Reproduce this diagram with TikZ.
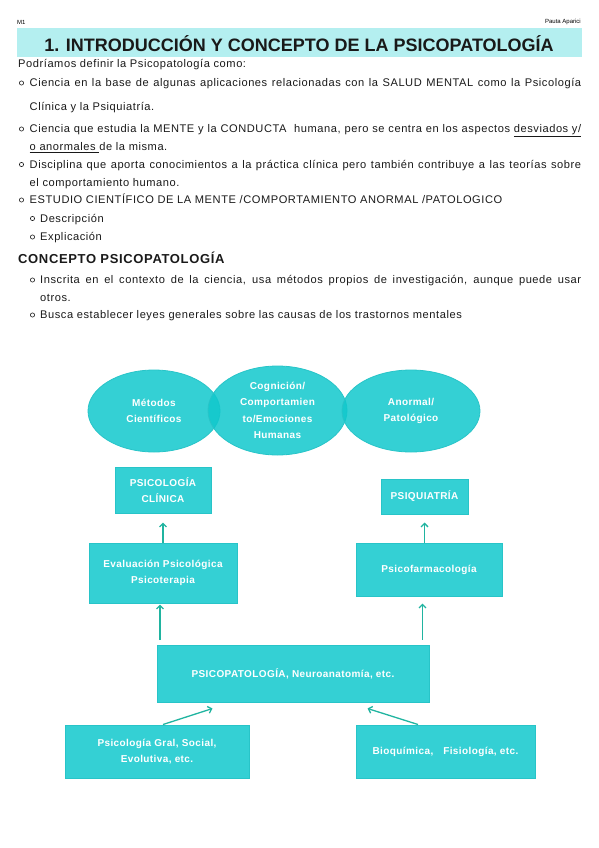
\documentclass[tikz,border=0pt]{standalone}
\usepackage{fontspec}
\setmainfont{Liberation Sans}
\newfontfamily\bodyf{Liberation Sans}[LetterSpace=5]
\newfontfamily\diagf{Liberation Sans}[LetterSpace=4]
\usetikzlibrary{shapes.geometric,arrows.meta,calc}
\definecolor{band}{RGB}{180,239,240}
\definecolor{tfill}{RGB}{16,200,204}
\definecolor{bfill}{RGB}{52,208,212}
\definecolor{bdraw}{RGB}{40,196,200}
\definecolor{arrc}{RGB}{32,180,160}
\definecolor{txt}{RGB}{25,25,25}
\begin{document}
\begin{tikzpicture}[x=1pt,y=-1pt,
  body/.style={anchor=west,inner sep=0pt,text height=7.9pt,text depth=0pt,text=txt,font=\bodyf\fontsize{11.1}{12}\selectfont},
  bul/.style={circle,draw=txt,line width=0.6pt,minimum size=4.2pt,inner sep=0pt},
  ell/.style={ellipse,draw=bdraw,line width=0.8pt,fill=tfill,fill opacity=0.85,text opacity=1,text=white,font=\diagf\bfseries\fontsize{10}{16.5}\selectfont,align=center,inner sep=0pt},
  tbox/.style={rectangle,draw=bdraw,line width=1pt,fill=bfill,text=white,font=\diagf\bfseries\fontsize{10}{16}\selectfont,align=center,inner sep=0pt},
  arr/.style={draw=arrc,line width=1.3pt,-{Straight Barb[length=3.5pt,width=7pt]}}
]
\useasboundingbox (0,0) rectangle (599,848);
% header
\node[anchor=west,inner sep=0pt,font=\fontsize{6}{7}\selectfont] (m1) at (17,22) {M1};
\node[anchor=east,inner sep=0pt,font=\fontsize{6}{7}\selectfont] (pa) at (581,22) {Pauta Aparici};
\node[fill=band,minimum width=565pt,minimum height=29pt,inner sep=0pt] (band) at (299.5,42.5) {};
\node[inner sep=0pt,text height=12.9pt,text depth=0pt,text=txt,font=\bfseries\fontsize{18}{20}\selectfont] (title) at (299,45) {1. INTRODUCCIÓN Y CONCEPTO DE LA PSICOPATOLOGÍA};
% body text
\node[body] (t0) at (18,64) {Podríamos definir la Psicopatología como:};
\node[bul] (b1) at (21.5,83) {};
\node[body] (t1) at (29.5,83) {\makebox[551.5pt][s]{Ciencia en la base de algunas aplicaciones relacionadas con la SALUD MENTAL como la Psicología}};
\node[body] (t1b) at (29.5,106.5) {Clínica y la Psiquiatría.};
\node[bul] (b2) at (21.5,129) {};
\node[body] (t2) at (29.5,129) {\makebox[551.5pt][s]{Ciencia que estudia la MENTE y la CONDUCTA\ \ humana, pero se centra en los aspectos \underline{desviados y/}}};
\node[body] (t2b) at (29.5,147) {\underline{o anormales }de la misma.};
\node[bul] (b3) at (21.5,164.5) {};
\node[body] (t3) at (29.5,164.5) {\makebox[551.5pt][s]{Disciplina que aporta conocimientos a la práctica clínica pero también contribuye a las teorías sobre}};
\node[body] (t3b) at (29.5,182.5) {el comportamiento humano.};
\node[bul] (b4) at (21.5,200) {};
\node[body] (t4) at (29.5,200) {ESTUDIO CIENTÍFICO DE LA MENTE /COMPORTAMIENTO ANORMAL /PATOLOGICO};
\node[bul] (b5) at (32.5,218.5) {};
\node[body] (t5) at (40,218.5) {Descripción};
\node[bul] (b6) at (32.5,237) {};
\node[body] (t6) at (40,237) {Explicación};
\node[body,text height=9.3pt,font=\bodyf\bfseries\fontsize{13}{15}\selectfont] (h2) at (18,258.5) {CONCEPTO PSICOPATOLOGÍA};
\node[bul] (b7) at (32.5,280) {};
\node[body] (t7) at (40,280) {\makebox[541pt][s]{Inscrita en el contexto de la ciencia, usa métodos propios de investigación, aunque puede usar}};
\node[body] (t7b) at (40,297.5) {otros.};
\node[bul] (b8) at (32.5,315) {};
\node[body] (t8) at (40,315) {Busca establecer leyes generales sobre las causas de los trastornos mentales};
% diagram: ellipses
\node[ell,minimum width=132pt,minimum height=82pt] (e1) at (154,411) {Métodos\\Científicos};
\node[ell,minimum width=139pt,minimum height=89pt] (e2) at (277.5,410.5) {Cognición/\\Comportamien\\to/Emociones\\Humanas};
\node[ell,minimum width=138pt,minimum height=82pt] (e3) at (411,411) {Anormal/\\Patológico};
% boxes
\node[tbox,minimum width=96pt,minimum height=46pt] (clinica) at (163,490) {PSICOLOGÍA\\CLÍNICA};
\node[tbox,minimum width=87pt,minimum height=35pt] (psiq) at (424.5,496.5) {PSIQUIATRÍA};
\node[tbox,minimum width=148pt,minimum height=60pt] (eval) at (163,573) {Evaluación Psicológica\\Psicoterapia};
\node[tbox,minimum width=146pt,minimum height=53pt] (farm) at (429,569.5) {Psicofarmacología};
\node[tbox,minimum width=272pt,minimum height=57pt] (psico) at (293,673.5) {PSICOPATOLOGÍA, Neuroanatomía, etc.};
\node[tbox,minimum width=184pt,minimum height=53pt] (gral) at (157,751.5) {Psicología Gral, Social,\\Evolutiva, etc.};
\node[tbox,minimum width=179pt,minimum height=53pt] (bio) at (445.5,751.5) {Bioquímica,\quad Fisiología, etc.};
% arrows
\draw[arr,shorten >=9pt] (eval.north) -- (eval.north |- clinica.south);
\draw[arr,shorten <=5pt,shorten >=1pt] ($(eval.south |- psico.north)+(-3,0)$) -- ($(eval.south)+(-3,0)$);
\draw[arr,shorten >=8pt] (psiq.south |- farm.north) -- (psiq.south);
\draw[arr,shorten <=5pt,shorten >=7pt] ($(psiq.south |- psico.north)+(-2,0)$) -- ($(psiq.south |- farm.south)+(-2,0)$);
\draw[arr] ($(gral.north)+(6,0)$) -- ($(psico.south west)+(56,6)$);
\draw[arr] ($(bio.north)+(-27.5,0)$) -- ($(psico.south east)+(-62,6)$);
\end{tikzpicture}
\end{document}
